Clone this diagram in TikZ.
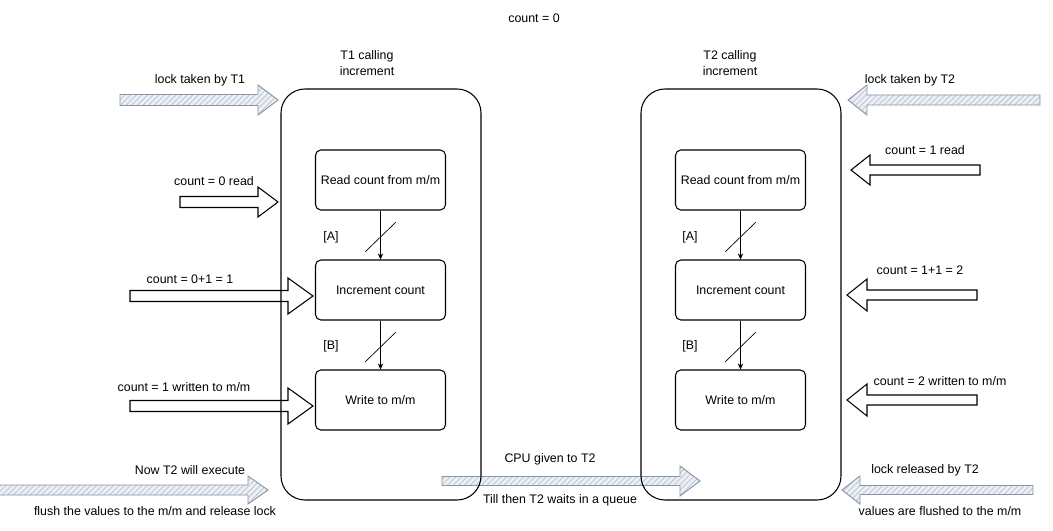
\documentclass[tikz,border=0pt]{standalone}
\usepackage{fontspec}
\setmainfont{Liberation Sans}
\usetikzlibrary{arrows.meta,patterns.meta}
\definecolor{hatchbg}{HTML}{EDF1F5}
\definecolor{hatchfg}{HTML}{C2CCD8}
\definecolor{hatchline}{HTML}{8A96A6}
\newcommand\blockarrow[7]{%
  % #1 style, #2 tail x, #3 tip x, #4 centre y, #5 shaft half, #6 head half, #7 head base x
  \draw[#1] (#2,#4-#5) -- (#7,#4-#5) -- (#7,#4-#6) -- (#3,#4) -- (#7,#4+#6) -- (#7,#4+#5) -- (#2,#4+#5) -- cycle;}
\tikzset{
  lbl/.style={font=\fontsize{9.3}{11.5}\selectfont, inner sep=0pt, align=center},
  hatched/.style={draw=hatchline, line width=0.7pt, line join=miter,
    preaction={fill=hatchbg},
    pattern={Lines[angle=45,distance=3pt,line width=0.8pt]}, pattern color=hatchfg},
  plain/.style={draw=black, line width=0.8pt, line join=miter},
  container/.style={draw=black, line width=0.8pt, rounded corners=18pt,
    minimum width=150pt, minimum height=308.25pt, inner sep=0pt},
  stepbox/.style={draw=black, line width=0.8pt, rounded corners=4pt, fill=white,
    minimum width=97.5pt, minimum height=45pt, inner sep=0pt,
    font=\fontsize{9.3}{11.5}\selectfont},
  flow/.style={draw=black, line width=0.5pt, -{Stealth[length=4.5pt,width=4pt]}},
}
\begin{document}
\begin{tikzpicture}[x=0.75pt,y=-0.75pt]
\useasboundingbox (0,0) rectangle (1053,531);
\fill[white] (0,0) rectangle (1053,531);

% block arrows (drawn first, containers lie over them)
\blockarrow{hatched}{120}{278}{100}{5.5}{15}{258}
\blockarrow{plain}{180}{278}{202}{5.5}{15}{258}
\blockarrow{plain}{130}{313}{296}{5.5}{18}{288}
\blockarrow{plain}{130}{313}{406}{5.5}{18}{288}
\blockarrow{hatched}{-5}{268}{490}{5}{14}{248}
\blockarrow{hatched}{442}{700}{481}{4.5}{15}{680}
\blockarrow{hatched}{1040}{848}{100}{5}{15}{867}
\blockarrow{plain}{980}{851}{170}{5}{15}{870}
\blockarrow{plain}{977}{847}{295}{5}{16}{867}
\blockarrow{plain}{977}{847}{400}{5}{16}{867}
\blockarrow{hatched}{1033}{842}{490}{4.5}{14}{860}

% containers
\node[container] (t1) at (381,294.5) {};
\node[container] (t2) at (741,294.5) {};

% step boxes
\node[stepbox] (r1) at (380.5,180) {Read count from m/m};
\node[stepbox] (i1) at (380.5,290) {Increment count};
\node[stepbox] (w1) at (380.5,400) {Write to m/m};
\node[stepbox] (r2) at (740.5,180) {Read count from m/m};
\node[stepbox] (i2) at (740.5,290) {Increment count};
\node[stepbox] (w2) at (740.5,400) {Write to m/m};

% flows with slashes
\draw[flow] (r1.south) -- (i1.north);
\draw[flow] (i1.south) -- (w1.north);
\draw[flow] (r2.south) -- (i2.north);
\draw[flow] (i2.south) -- (w2.north);
\draw[line width=0.5pt] (365,252) -- (396,222);
\draw[line width=0.5pt] (365,362) -- (396,332);
\draw[line width=0.5pt] (725,252) -- (756,222);
\draw[line width=0.5pt] (725,362) -- (756,332);
\node[lbl] (la1) at (331,237) {[A]};
\node[lbl] (lb1) at (331,346) {[B]};
\node[lbl] (la2) at (690,237) {[A]};
\node[lbl] (lb2) at (690,346) {[B]};

% texts
\node[lbl] (title) at (534,18) {count = 0};
\node[lbl] (h1) at (367,63) {T1 calling\\increment};
\node[lbl] (h2) at (730,63) {T2 calling\\increment};
\node[lbl] (a1) at (200,80) {lock taken by T1};
\node[lbl] (a2) at (214,181) {count = 0 read};
\node[lbl] (a3) at (190,279) {count = 0+1 = 1};
\node[lbl] (a4) at (184,387) {count = 1 written to m/m};
\node[lbl] (a5) at (190,470) {Now T2 will execute};
\node[lbl] (a6) at (155,511) {flush the values to the m/m and release lock};
\node[lbl] (c1) at (550,459) {CPU given to T2};
\node[lbl] (c2) at (560,500) {Till then T2 waits in a queue};
\node[lbl] (b1) at (910,80) {lock taken by T2};
\node[lbl] (b2) at (925,150) {count = 1 read};
\node[lbl] (b3) at (920,270) {count = 1+1 = 2};
\node[lbl] (b4) at (940,381) {count = 2 written to m/m};
\node[lbl] (b5) at (925,470) {lock released by T2};
\node[lbl] (b6) at (940,511) {values are flushed to the m/m};
\end{tikzpicture}
\end{document}
